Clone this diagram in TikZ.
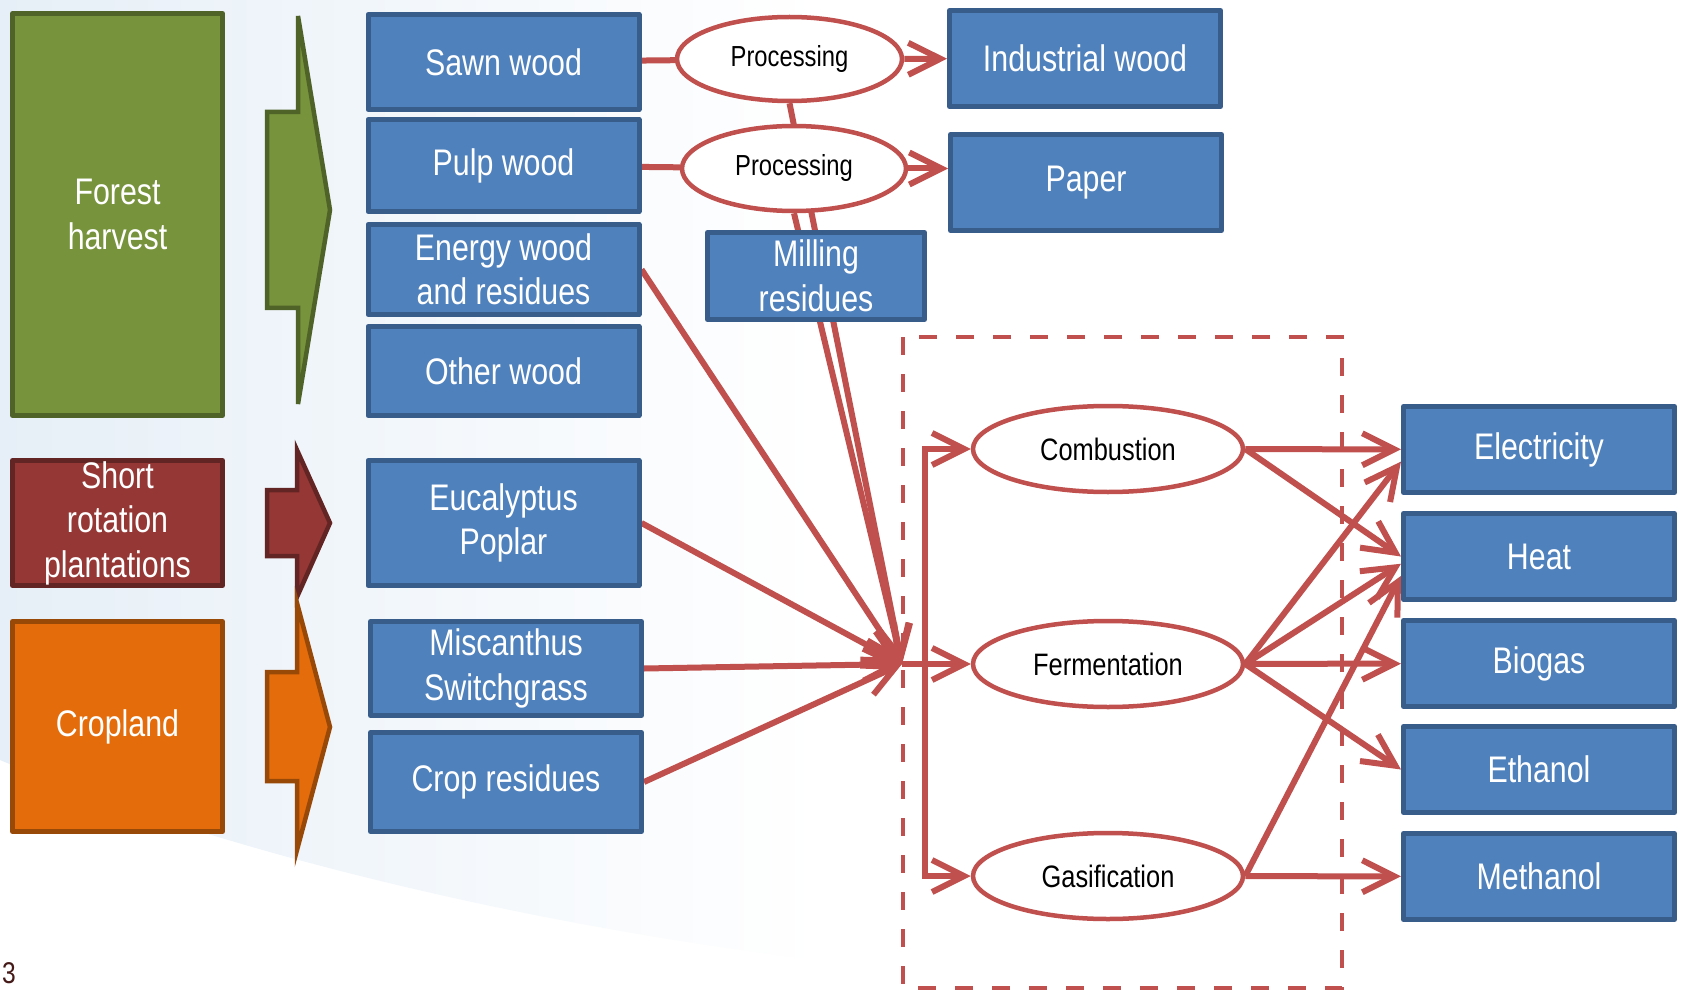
\documentclass[tikz,border=0pt]{standalone}
\usepackage{fontspec}
\setmainfont{Liberation Sans}[FakeStretch=0.82]
\usetikzlibrary{shapes.geometric,arrows.meta,backgrounds}
\definecolor{boxblue}{HTML}{4F81BD}
\definecolor{boxline}{HTML}{385D8A}
\definecolor{linkred}{HTML}{C0504D}
\definecolor{woodgreen}{HTML}{77933C}
\definecolor{woodline}{HTML}{4F6228}
\definecolor{srcred}{HTML}{953735}
\definecolor{srcredline}{HTML}{632523}
\definecolor{croporange}{HTML}{E46C0A}
\definecolor{cropline}{HTML}{984807}
\definecolor{slidetint}{HTML}{E6EFF7}
\tikzset{
	bluebox/.style={draw=boxline, fill=boxblue, line width=5pt, text=white, inner sep=0pt, minimum width=271pt, align=center, font=\fontsize{37}{44.5}\selectfont},
	srcbox/.style={line width=5pt, text=white, inner sep=0pt, minimum width=210pt, align=center, font=\fontsize{37}{44.5}\selectfont},
	procell/.style={ellipse, draw=linkred, fill=white, line width=4.5pt, inner sep=0pt, font=\fontsize{31}{37}\selectfont},
	link/.style={draw=linkred, line width=6pt},
}
\begin{document}
\begin{tikzpicture}[x=1pt, y=-1pt, line join=round, line cap=round, >={Straight Barb[length=32pt,width=32pt]}]
	\useasboundingbox (0,0) rectangle (1681,992);
	% sources
	\node[srcbox, draw=woodline, fill=woodgreen, minimum height=402pt] (forest) at (117.5,214.5) {Forest\\harvest};
	\node[srcbox, draw=srcredline, fill=srcred, minimum height=125pt] (short) at (117.5,523) {Short\\rotation\\plantations};
	\node[srcbox, draw=cropline, fill=croporange, minimum height=210pt] (cropland) at (117.5,726.5) {Cropland};
	% block arrows
	\draw[line width=4.5pt, line cap=butt, line join=miter, draw=woodline, fill=woodgreen] (267,112) -- (298,112) -- (298,16) -- (330,210) -- (298,404) -- (298,308) -- (267,308) -- cycle;
	\draw[line width=4.5pt, line cap=butt, line join=miter, draw=srcredline, fill=srcred] (267,490) -- (297,490) -- (297,450) -- (330,523) -- (297,597) -- (297,556) -- (267,556) -- cycle;
	\draw[line width=4.5pt, line cap=butt, line join=miter, draw=cropline, fill=croporange] (267,672) -- (297,672) -- (297,603) -- (330,727) -- (297,850) -- (297,781) -- (267,781) -- cycle;
	% feedstocks
	\node[bluebox, minimum height=95pt] (sawn) at (503.5,62) {Sawn wood};
	\node[bluebox, minimum height=92pt] (pulp) at (503.5,165.5) {Pulp wood};
	\node[bluebox, minimum height=90pt] (energy) at (503.5,269.5) {Energy wood\\and residues};
	\node[bluebox, minimum height=89pt] (other) at (503.5,371) {Other wood};
	\node[bluebox, minimum height=125pt] (euca) at (503.5,523) {Eucalyptus\\Poplar};
	\node[bluebox, minimum height=94pt] (misc) at (506,668.5) {Miscanthus\\Switchgrass};
	\node[bluebox, minimum height=99pt] (cropres) at (506,782) {Crop residues};
	% processing
	\node[procell, font=\fontsize{29}{35}\selectfont, minimum width=225pt, minimum height=84pt] (proc1) at (789.5,59) {Processing};
	\node[procell, font=\fontsize{29}{35}\selectfont, minimum width=224pt, minimum height=85pt] (proc2) at (794,168.5) {Processing};
	\node[bluebox, minimum height=96pt] (indwood) at (1085,58.5) {Industrial wood};
	\node[bluebox, minimum height=96pt] (paper) at (1086,182.5) {Paper};
	\node[bluebox, minimum width=217pt, minimum height=87pt] (milling) at (816,276) {Milling\\residues};
	% conversion
	\node[procell, minimum width=270pt, minimum height=86pt] (comb) at (1108,449) {Combustion};
	\node[procell, minimum width=270pt, minimum height=86pt] (ferm) at (1108,664) {Fermentation};
	\node[procell, minimum width=270pt, minimum height=86pt] (gas) at (1108,876) {Gasification};
	% products
	\node[bluebox, minimum height=86pt] (elec) at (1539,449.5) {Electricity};
	\node[bluebox, minimum height=86pt] (heat) at (1539,556.5) {Heat};
	\node[bluebox, minimum height=86pt] (biogas) at (1539,663.5) {Biogas};
	\node[bluebox, minimum height=86pt] (ethanol) at (1539,769.5) {Ethanol};
	\node[bluebox, minimum height=86pt] (methanol) at (1539,876.5) {Methanol};
	\node[anchor=base west, inner sep=0pt, text=srcredline!70!black, font=\fontsize{30}{36}\selectfont] (pagenum) at (2,983) {3};
	\coordinate (conv) at (902,664);
	\coordinate (bus) at (925,664);
	\begin{scope}[on background layer]
		\fill[white] (0,0) rectangle (1681,992);
		% slide backdrop
		\shade[left color=slidetint, right color=white] (0,0) -- (820,0) -- (820,960) .. controls (560,930) and (240,860) .. (0,760) -- cycle;
		\draw[linkred, line width=4.5pt, line cap=butt, dash pattern=on 18pt off 19pt] (903,337) rectangle (1342,988);
		\draw[link] (sawn) -- (proc1);
		\draw[link,->] (proc1) -- (indwood);
		\draw[link] (pulp) -- (proc2);
		\draw[link,->] (proc2.east) -- (proc2.east -| paper.west);
		\draw[link,->] (proc1.south) -- (conv);
		\draw[link,->] (proc2.south) -- (conv);
		\draw[link,->] (energy.east) -- (conv);
		\draw[link,->] (euca.east) -- (conv);
		\draw[link,->] (misc.east) -- (conv);
		\draw[link,->] (cropres.east) -- (conv);
		\draw[link,->] (conv) -- (ferm);
		\draw[link,->] (bus) |- (comb);
		\draw[link,->] (bus) |- (gas);
		\draw[link,->] (comb) -- (elec);
		\draw[link,->] (comb.east) -- (heat.west);
		\draw[link,->] (ferm.east) -- (elec.185);
		\draw[link,->] (ferm.east) -- (heat.183);
		\draw[link,->] (ferm) -- (biogas);
		\draw[link,->] (ferm.east) -- (ethanol.west);
		\draw[link,->] (gas.east) -- (heat.188);
		\draw[link,->] (gas) -- (methanol);
	\end{scope}
\end{tikzpicture}
\end{document}
